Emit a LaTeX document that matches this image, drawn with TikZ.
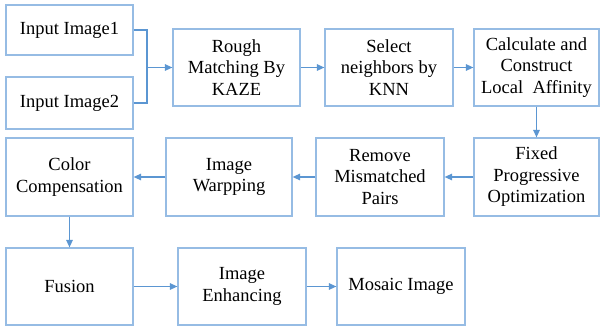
\documentclass[tikz,border=0pt]{standalone}
\usepackage{fontspec}
\setmainfont{Liberation Serif}
\usetikzlibrary{arrows.meta}
\definecolor{boxline}{RGB}{150,188,228}
\definecolor{arrowline}{RGB}{91,150,210}
\begin{document}
\begin{tikzpicture}[x=1pt,y=-1pt,
  box/.style={draw=boxline,line width=1.2pt,align=center,inner sep=1pt,
    font=\rmfamily\fontsize{18.5}{21.5}\selectfont,text=black},
  conn/.style={draw=arrowline,line width=1.3pt,-{Triangle[length=7.5pt,width=6.5pt]}},
  plain/.style={draw=arrowline,line width=1.3pt}]
\useasboundingbox (0,0) rectangle (600,327);
\node[box,minimum width=127pt,minimum height=50pt] (in1) at (69.5,30) {Input Image1};
\node[box,minimum width=127pt,minimum height=52pt] (in2) at (69.5,103) {Input Image2};
\node[box,minimum width=127pt,minimum height=77pt] (rough) at (236.5,67.5) {Rough\\Matching By\\KAZE};
\node[box,minimum width=128pt,minimum height=77pt] (knn) at (389,67.5) {Select\\neighbors by\\KNN};
\node[box,minimum width=125pt,minimum height=77pt] (calc) at (536.5,67.5) {Calculate and\\Construct\\Local\ \ Affinity};
\node[box,minimum width=127pt,minimum height=78pt] (color) at (69.5,177) {Color\\Compensation};
\node[box,minimum width=126pt,minimum height=78pt] (warp) at (229,177) {Image\\Warpping};
\node[box,minimum width=128pt,minimum height=78pt] (remove) at (380,177) {Remove\\Mismatched\\Pairs};
\node[box,minimum width=125pt,minimum height=78pt] (fixed) at (536.5,177) {Fixed\\Progressive\\Optimization};
\node[box,minimum width=127pt,minimum height=77pt] (fusion) at (69.5,286.5) {Fusion};
\node[box,minimum width=128pt,minimum height=77pt] (enh) at (242,286.5) {Image\\Enhancing};
\node[box,minimum width=128pt,minimum height=77pt] (mosaic) at (401,286.5) {Mosaic Image};
\coordinate (j) at (147,67.5);
\draw[plain] (in1.east) -| (j);
\draw[plain] (in2.east) -| (j);
\draw[conn] (j) -- (rough.west);
\draw[conn] (rough) -- (knn);
\draw[conn] (knn) -- (calc);
\draw[conn] (calc) -- (fixed);
\draw[conn] (fixed) -- (remove);
\draw[conn] (remove) -- (warp);
\draw[conn] (warp) -- (color);
\draw[conn] (color) -- (fusion);
\draw[conn] (fusion) -- (enh);
\draw[conn] (enh) -- (mosaic);
\end{tikzpicture}
\end{document}
